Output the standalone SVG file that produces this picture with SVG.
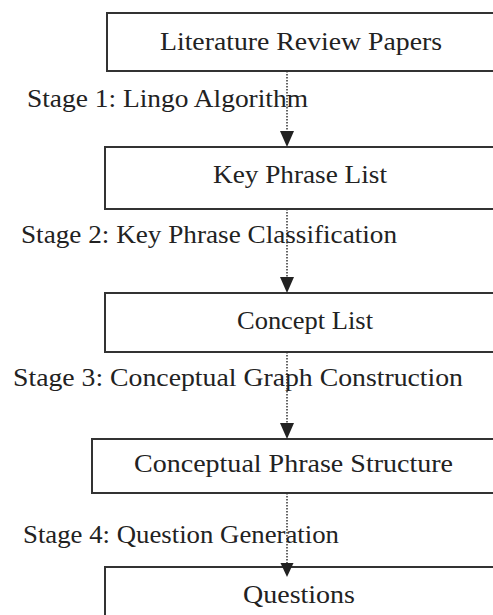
<svg xmlns="http://www.w3.org/2000/svg" width="493" height="615" viewBox="0 0 493 615">
<defs>
<style>
.box{fill:#fff;stroke:#333;stroke-width:2}
.t{font-family:"Liberation Serif","Times New Roman",serif;font-size:26px;fill:#222}
.c{stroke:#333;stroke-width:1.5;stroke-dasharray:1.5 1.5;fill:none}
.h{fill:#222}
</style>
</defs>
<rect width="493" height="615" fill="#fff"/>
<g id="n1"><rect class="box" x="107" y="13" width="400" height="58"/><text class="t" x="160" y="50" textLength="282" lengthAdjust="spacingAndGlyphs">Literature Review Papers</text></g>
<g id="n2"><rect class="box" x="105" y="147" width="400" height="62"/><text class="t" x="213" y="183" textLength="174" lengthAdjust="spacingAndGlyphs">Key Phrase List</text></g>
<g id="n3"><rect class="box" x="105" y="293" width="400" height="59"/><text class="t" x="237" y="329" textLength="136" lengthAdjust="spacingAndGlyphs">Concept List</text></g>
<g id="n4"><rect class="box" x="92" y="439" width="420" height="54"/><text class="t" x="134" y="472" textLength="319" lengthAdjust="spacingAndGlyphs">Conceptual Phrase Structure</text></g>
<g id="n5"><rect class="box" x="105" y="567" width="400" height="60"/><text class="t" x="243" y="603" textLength="112" lengthAdjust="spacingAndGlyphs">Questions</text></g>
<g id="connectors">
<path d="M287,71 V131" class="c"/><path d="M280,131 H294 L287,147 Z" class="h"/>
<path d="M287,209 V277" class="c"/><path d="M280,277 H294 L287,293 Z" class="h"/>
<path d="M287,352 V423" class="c"/><path d="M280,423 H294 L287,439 Z" class="h"/>
<path d="M287,493 V563" class="c"/><path d="M280.5,563 H293.5 L287,577 Z" class="h"/>
</g>
<g id="labels">
<text class="t" x="27" y="107" textLength="281" lengthAdjust="spacingAndGlyphs">Stage 1: Lingo Algorithm</text>
<text class="t" x="21" y="243" textLength="376" lengthAdjust="spacingAndGlyphs">Stage 2: Key Phrase Classification</text>
<text class="t" x="13" y="386" textLength="450" lengthAdjust="spacingAndGlyphs">Stage 3: Conceptual Graph Construction</text>
<text class="t" x="23" y="543" textLength="316" lengthAdjust="spacingAndGlyphs">Stage 4: Question Generation</text>
</g>
</svg>
